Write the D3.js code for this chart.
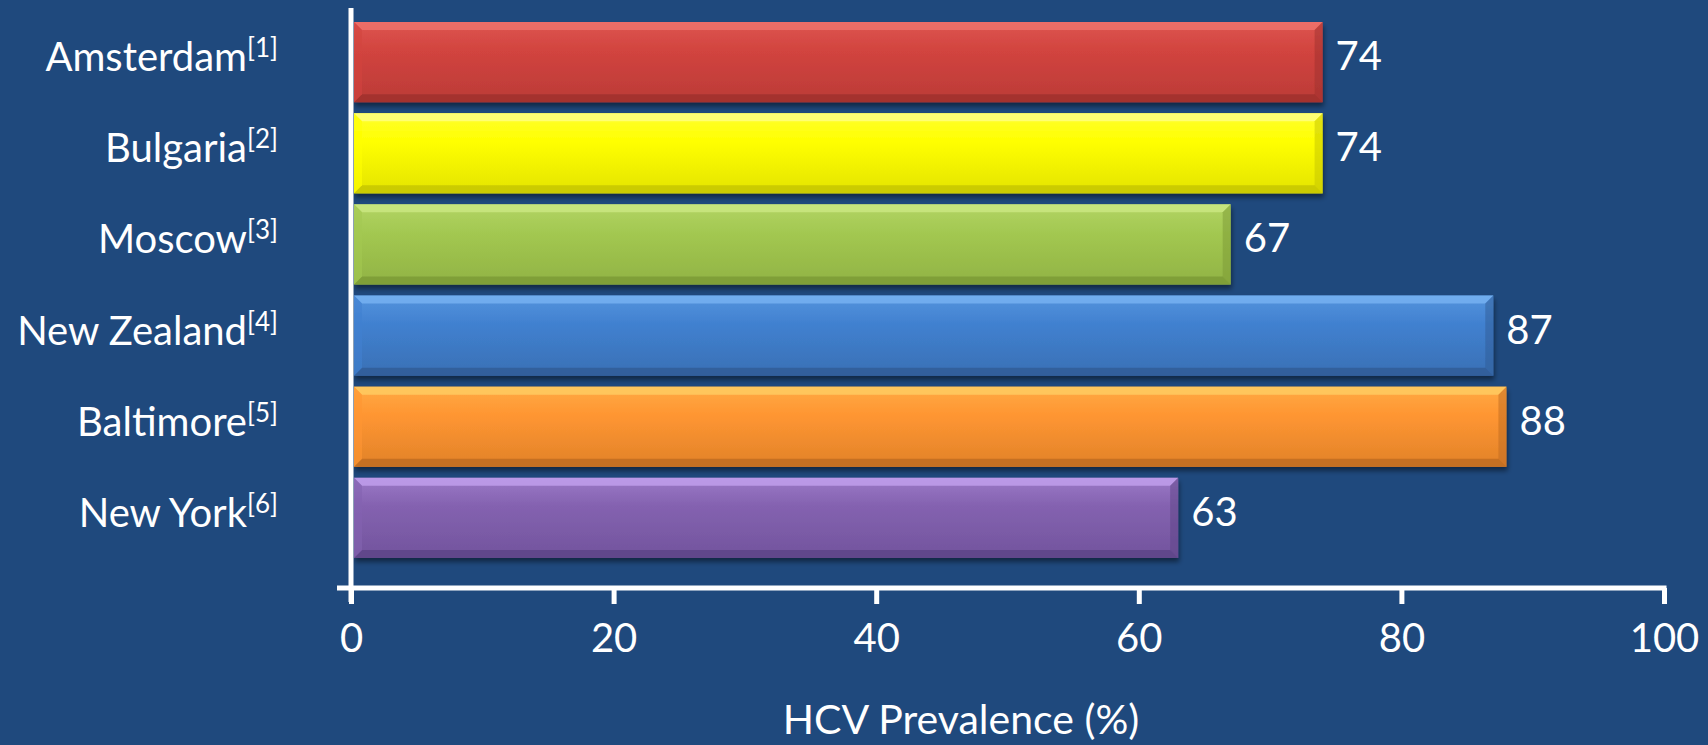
<!DOCTYPE html>
<html>
<head>
<meta charset="utf-8">
<script src="https://cdn.jsdelivr.net/npm/d3@7/dist/d3.min.js"></script>
<style>
  html, body { margin: 0; padding: 0; background: #1f497d; }
  svg { display: block; }
  text { font-family: Lato, "Open Sans", sans-serif; fill: #ffffff; }
</style>
</head>
<body>
<svg id="chart" width="1708" height="745"></svg>
<script>
// HCV prevalence by study site
const sites = ["Amsterdam", "Bulgaria", "Moscow", "New Zealand", "Baltimore", "New York"];
const refs = ["[1]", "[2]", "[3]", "[4]", "[5]", "[6]"];
const prevalence = [74, 74, 67, 87, 88, 63];
const xTicks = [0, 20, 40, 60, 80, 100];
const axisTitle = "HCV Prevalence (%)";

// bar palettes: face, highlight, shade
const barFace = ["#d2443f", "#ffff00", "#a3c851", "#4181d0", "#ff9632", "#8462b0"];
const barLight = ["#f2766f", "#ffff8c", "#cdea86", "#7ab6f4", "#ffd066", "#c6a4f2"];
const barDark = ["#9e2f2d", "#c4c400", "#7b9a35", "#2f5b95", "#bd6a1f", "#5d4386"];

const W = 1708, H = 745;
const svg = d3.select("#chart");

svg.append("rect").attr("width", W).attr("height", H).attr("fill", "#1f497d");

const x = d3.scaleLinear().domain([0, 100]).range([351, 1664]);
const y = d3.scaleBand().domain(sites).range([22, 558]).paddingInner(0.12).paddingOuter(0);
const axisY = 588;

const defs = svg.append("defs");
defs.append("filter").attr("id", "shadow")
  .attr("x", "-5%").attr("y", "-20%").attr("width", "110%").attr("height", "150%")
  .append("feDropShadow")
  .attr("dx", 1).attr("dy", 4).attr("stdDeviation", 2.5)
  .attr("flood-color", "#000000").attr("flood-opacity", 0.45);

sites.forEach((s, i) => {
  const g = defs.append("linearGradient").attr("id", "grad" + i)
    .attr("x1", 0).attr("y1", 0).attr("x2", 0).attr("y2", 1);
  g.append("stop").attr("offset", "0%").attr("stop-color", d3.interpolateRgb(barFace[i], barLight[i])(0.35));
  g.append("stop").attr("offset", "35%").attr("stop-color", barFace[i]);
  g.append("stop").attr("offset", "100%").attr("stop-color", d3.interpolateRgb(barFace[i], barDark[i])(0.45));
});

// Bars with a bevelled edge
const bev = 8;
const bars = svg.append("g").selectAll("g.bar")
  .data(sites)
  .join("g")
  .attr("class", "bar")
  .attr("filter", "url(#shadow)");

bars.each(function (s, i) {
  const g = d3.select(this);
  const x0 = x(0) + 3, x1 = x(prevalence[i]);
  const y0 = y(s), y1 = y(s) + y.bandwidth();
  g.append("rect")
    .attr("x", x0).attr("y", y0)
    .attr("width", x1 - x0).attr("height", y1 - y0)
    .attr("fill", "url(#grad" + i + ")");
  // top highlight
  g.append("path")
    .attr("d", `M${x0},${y0}L${x1},${y0}L${x1 - bev},${y0 + bev}L${x0 + bev},${y0 + bev}Z`)
    .attr("fill", barLight[i]).attr("opacity", 0.75);
  // bottom shade
  g.append("path")
    .attr("d", `M${x0},${y1}L${x1},${y1}L${x1 - bev},${y1 - bev}L${x0 + bev},${y1 - bev}Z`)
    .attr("fill", barDark[i]).attr("opacity", 0.8);
  // right edge shade
  g.append("path")
    .attr("d", `M${x1},${y0}L${x1},${y1}L${x1 - bev},${y1 - bev}L${x1 - bev},${y0 + bev}Z`)
    .attr("fill", barDark[i]).attr("opacity", 0.5);
  // left edge
  g.append("path")
    .attr("d", `M${x0},${y0}L${x0},${y1}L${x0 + bev},${y1 - bev}L${x0 + bev},${y0 + bev}Z`)
    .attr("fill", barFace[i]).attr("opacity", 0.6);
});

// Value labels
svg.append("g").selectAll("text")
  .data(sites)
  .join("text")
  .attr("x", (d, i) => x(prevalence[i]) + 13)
  .attr("y", d => y(d) + y.bandwidth() / 2 + 8)
  .attr("font-size", 40)
  .text((d, i) => prevalence[i]);

// Category labels with reference superscripts
const cat = svg.append("g").selectAll("text")
  .data(sites)
  .join("text")
  .attr("x", 278)
  .attr("y", d => y(d) + y.bandwidth() / 2 + 9)
  .attr("text-anchor", "end")
  .attr("font-size", 40);
cat.append("tspan").text(d => d);
cat.append("tspan")
  .attr("dy", -14)
  .attr("font-size", 26)
  .text((d, i) => refs[i]);

// Vertical axis line
svg.append("line")
  .attr("x1", x(0)).attr("x2", x(0))
  .attr("y1", 8).attr("y2", 602)
  .attr("stroke", "#ffffff").attr("stroke-width", 5);

// Horizontal axis
const xAxis = d3.axisBottom(x).tickValues(xTicks).tickSize(16).tickSizeOuter(0).tickPadding(20);
const ax = svg.append("g").attr("transform", `translate(0,${axisY})`).call(xAxis);
ax.select(".domain").remove();
ax.selectAll(".tick line").attr("stroke", "#ffffff").attr("stroke-width", 5);
ax.selectAll(".tick text")
  .attr("fill", "#ffffff")
  .attr("font-family", "Lato, 'Open Sans', sans-serif")
  .attr("font-size", 40);
svg.append("line")
  .attr("x1", x(0) - 14).attr("x2", x(100) + 2.5)
  .attr("y1", axisY).attr("y2", axisY)
  .attr("stroke", "#ffffff").attr("stroke-width", 5);

// Axis title
svg.append("text")
  .attr("x", 961)
  .attr("y", 734)
  .attr("text-anchor", "middle")
  .attr("font-size", 41)
  .text(axisTitle);
</script>
</body>
</html>
